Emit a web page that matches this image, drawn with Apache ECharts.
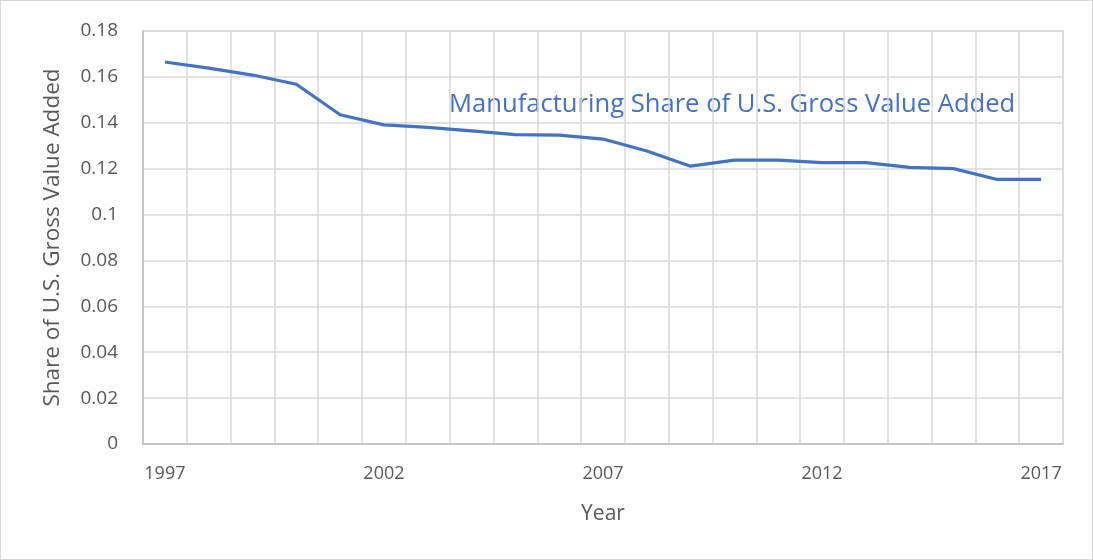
<!DOCTYPE html>
<html>
<head>
<meta charset="utf-8">
<script src="https://cdn.jsdelivr.net/npm/echarts@6/dist/echarts.min.js"></script>
<style>
  html, body { margin: 0; padding: 0; background: #fff; }
  #main { width: 1091px; height: 558px; border: 1px solid #d9d9d9; }
</style>
</head>
<body>
<div id="main"></div>
<script>
// 数据
var years = ['1997','1998','1999','2000','2001','2002','2003','2004','2005','2006','2007',
             '2008','2009','2010','2011','2012','2013','2014','2015','2016','2017'];
var mfgShare = [0.1665, 0.1638, 0.1608, 0.1568, 0.1435, 0.1391, 0.1380, 0.1365, 0.1348, 0.1346, 0.1329,
                0.1277, 0.1211, 0.1237, 0.1237, 0.1226, 0.1226, 0.1206, 0.1200, 0.1153, 0.1153];
var seriesName = 'Manufacturing Share of U.S. Gross Value Added';

var chart = echarts.init(document.getElementById('main'));
var font = '"Open Sans", "Noto Sans", sans-serif';

var option = {
    animation: false,
    textStyle: { fontFamily: font },
    grid: { left: 142, right: 29, top: 30, bottom: 115, show: true, borderColor: '#d9d9d9', borderWidth: 1.5 },
    xAxis: {
        type: 'category',
        data: years,
        boundaryGap: true,
        name: 'Year',
        nameLocation: 'middle',
        nameGap: 60,
        nameTextStyle: { color: '#595959', fontSize: 21, fontFamily: font },
        axisLine: { lineStyle: { color: '#bfbfbf', width: 1.5 } },
        axisTick: { show: false },
        axisLabel: { interval: 4, color: '#595959', fontSize: 18, margin: 21 },
        splitLine: { show: true, interval: 0, lineStyle: { color: '#d9d9d9', width: 1.5 } }
    },
    yAxis: {
        type: 'value',
        min: 0,
        max: 0.18,
        interval: 0.02,
        name: 'Share of U.S. Gross Value Added',
        nameLocation: 'middle',
        nameGap: 79,
        nameTextStyle: { color: '#595959', fontSize: 22.5, fontFamily: font },
        axisLine: { show: true, lineStyle: { color: '#bfbfbf', width: 1.5 } },
        axisTick: { show: false },
        axisLabel: { color: '#595959', fontSize: 19, margin: 25 },
        splitLine: { lineStyle: { color: '#d9d9d9', width: 1.5 } }
    },
    series: [{
        name: seriesName,
        type: 'line',
        data: mfgShare,
        symbol: 'none',
        lineStyle: { color: '#4472c4', width: 3.2 }
    }],
    graphic: [{
        type: 'text',
        left: 448,
        top: 91,
        style: { text: seriesName, fill: '#4472c4', fontSize: 25.6, fontFamily: font }
    }]
};

chart.setOption(option);
</script>
</body>
</html>
